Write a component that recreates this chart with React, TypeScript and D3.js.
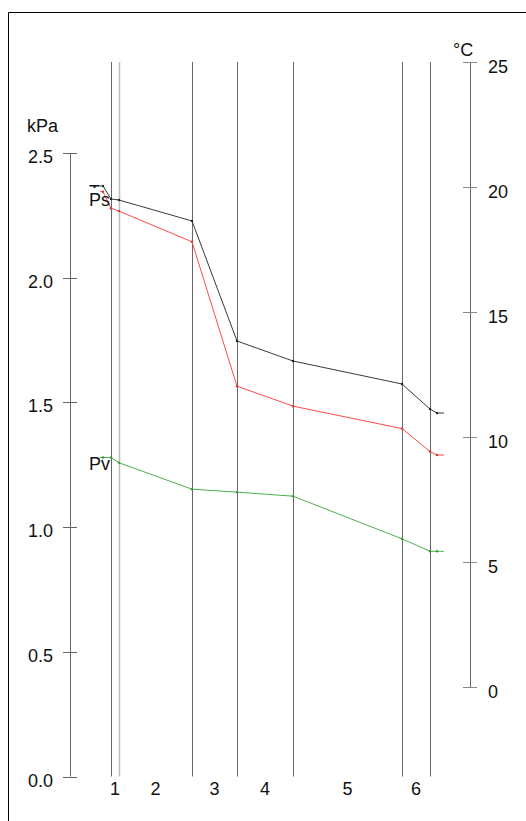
import * as d3 from 'd3';

// wall layers (drawing units along the wall section)
const layerNames = ['1', '2', '3', '4', '5', '6'];
const layerThickness = [8, 73, 45, 56, 109, 28];

// section positions: inside air stub, inside air, layer boundaries, outside air, outside stub
const positions = [-11, -8, 0, 8, 81, 126, 182, 291, 319, 326, 333];

// temperature T (°C)
const tempValues = [20.04, 20.04, 19.52, 19.48, 18.64, 13.84, 13.04, 12.12, 11.12, 10.96, 10.96];
// saturation vapour pressure Ps (kPa)
const psValues = [2.345, 2.345, 2.278, 2.267, 2.144, 1.565, 1.485, 1.395, 1.303, 1.289, 1.289];
// vapour pressure Pv (kPa)
const pvValues = [1.279, 1.279, 1.279, 1.258, 1.152, 1.14, 1.124, 0.953, 0.903, 0.903, 0.903];

const kpaTicks = [0, 0.5, 1.0, 1.5, 2.0, 2.5];
const tempTicks = [0, 5, 10, 15, 20, 25];

const FONT = 'Liberation Sans, Arial, sans-serif';

export default function App() {
  const W = 526;
  const H = 821;

  const total = d3.sum(layerThickness);
  const x = d3.scaleLinear().domain([0, total]).range([111, 430]);
  const yP = d3.scaleLinear().domain([0, 2.5]).range([776.5, 153]);
  const yT = d3.scaleLinear().domain([0, 25]).range([687, 62]);

  const boundaries = [0, ...d3.cumsum(layerThickness)];
  const leftAxisX = 70.5;
  const rightAxisX = 470.5;
  const lineTop = 62;
  const lineBottom = 776.5;

  const line = (ys: (v: number) => number, vals: number[]) =>
    d3.line<number>()
      .x((_, i) => x(positions[i]))
      .y((v) => ys(v))(vals) || '';

  const series = [
    { vals: tempValues, scale: yT, color: '#3a3a3a', dot: '#222' },
    { vals: psValues, scale: yP, color: '#ff4a4a', dot: '#e03030' },
    { vals: pvValues, scale: yP, color: '#4cb04c', dot: '#3a9a3a' },
  ];

  return (
    <svg
      width={W}
      height={H}
      style={{ position: 'absolute', left: 0, top: 0, background: '#fff' }}
      fontFamily={FONT}
    >
      <defs>
        {/* only the top bar of the T label shows above Ps */}
        <clipPath id="tclip">
          <rect x={80} y={170} width={40} height={18} />
        </clipPath>
      </defs>

      {/* frame */}
      <line x1={8.5} y1={12.5} x2={W} y2={12.5} stroke="#000" strokeWidth={1} />
      <line x1={8.5} y1={12.5} x2={8.5} y2={H} stroke="#000" strokeWidth={1} />

      {/* layer boundaries */}
      {boundaries.map((b, i) => (
        <line
          key={i}
          x1={Math.round(x(b)) + 0.5}
          x2={Math.round(x(b)) + 0.5}
          y1={lineTop}
          y2={lineBottom}
          stroke={i === 1 ? '#bdbdbd' : '#666'}
          strokeWidth={i === 1 ? 1.5 : 1}
        />
      ))}

      {/* layer labels */}
      {layerNames.map((n, i) => (
        <text
          key={n}
          x={(x(boundaries[i]) + x(boundaries[i + 1])) / 2}
          y={795}
          textAnchor="middle"
          fontSize={18}
          fill="#111"
        >
          {n}
        </text>
      ))}

      {/* left axis (kPa) */}
      <line x1={leftAxisX} x2={leftAxisX} y1={yP(2.5)} y2={yP(0)} stroke="#666" />
      {kpaTicks.map((t) => (
        <g key={t}>
          <line x1={63} x2={77} y1={Math.round(yP(t)) + 0.5} y2={Math.round(yP(t)) + 0.5} stroke="#666" />
          <text x={53} y={yP(t) + 10} textAnchor="end" fontSize={18} fill="#111">
            {t.toFixed(1)}
          </text>
        </g>
      ))}
      <text x={27} y={132} fontSize={18} fill="#111">kPa</text>

      {/* right axis (°C) */}
      <line x1={rightAxisX} x2={rightAxisX} y1={yT(25)} y2={yT(0)} stroke="#666" />
      {tempTicks.map((t) => (
        <g key={t}>
          <line x1={463} x2={477} y1={Math.round(yT(t)) + 0.5} y2={Math.round(yT(t)) + 0.5} stroke="#888" />
          <text x={488} y={yT(t) + 11} fontSize={18} fill="#111">
            {t}
          </text>
        </g>
      ))}
      <text x={453} y={56} fontSize={18} fill="#111">°C</text>

      {/* profiles */}
      {series.map((s, si) => (
        <g key={si}>
          <path d={line(s.scale, s.vals)} fill="none" stroke={s.color} strokeWidth={1} />
          {s.vals.slice(1, -1).map((v, i) => (
            <circle key={i} cx={x(positions[i + 1])} cy={s.scale(v)} r={1.2} fill={s.dot} />
          ))}
        </g>
      ))}

      {/* series labels */}
      <text x={89} y={198} fontSize={18} fill="#111" clipPath="url(#tclip)">T</text>
      <text x={89} y={206} fontSize={18} fill="#111">Ps</text>
      <text x={89} y={470} fontSize={18} fill="#111">Pv</text>
    </svg>
  );
}
